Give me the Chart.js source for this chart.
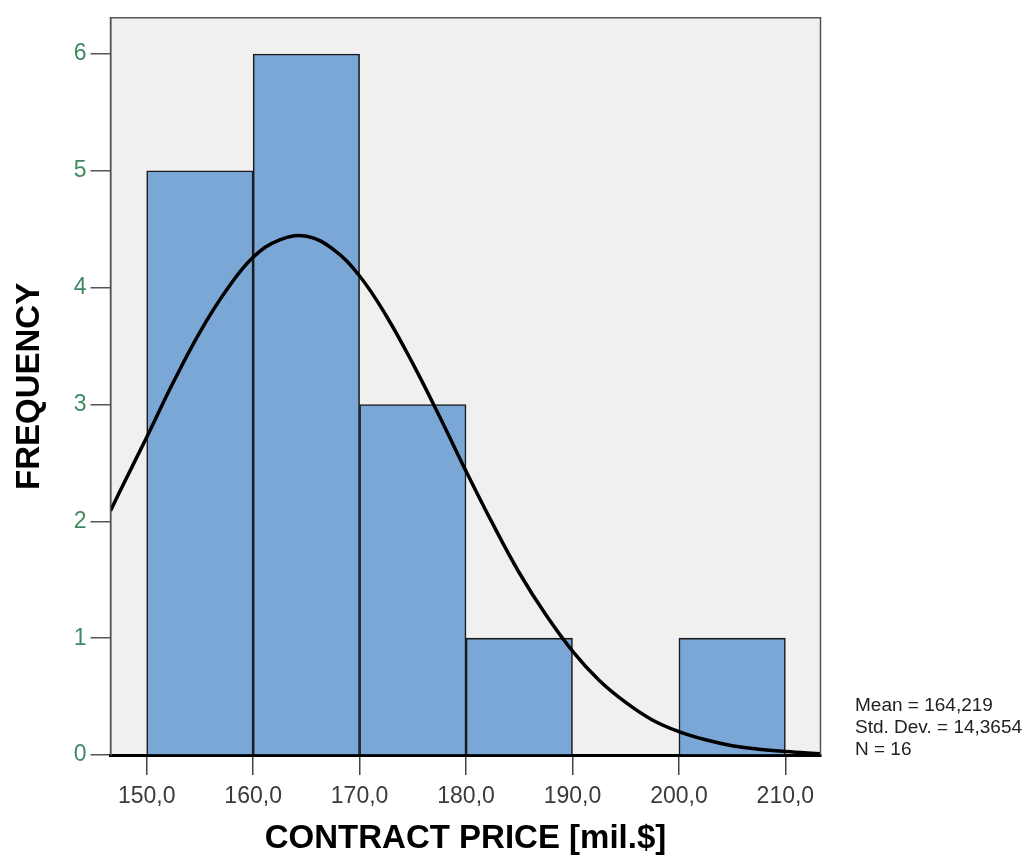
<!DOCTYPE html>
<html>
<head>
<meta charset="utf-8">
<script src="https://cdn.jsdelivr.net/npm/chart.js@4.4.1/dist/chart.umd.min.js"></script>
<style>
  html, body { margin: 0; padding: 0; background: #fff; }
  #wrap { width: 1027px; height: 861px; }
</style>
</head>
<body>
<div id="wrap"><canvas id="chart" width="1027" height="861"></canvas></div>
<script>
// histogram bins (lower and upper edges) and counts
var binStarts = [150, 160, 170, 180, 190, 200];
var binEnds = [160, 170, 180, 190, 200, 210];
var counts = [5, 6, 3, 1, 0, 1];

// normal curve
var curveX = [146.6, 147.5, 150, 152.5, 155, 157.5, 160, 162.5, 165, 167.5, 170, 172.5, 175, 177.5,
  180, 182.5, 185, 187.5, 190, 192.5, 195, 197.5, 200, 202.5, 205, 207.5, 210, 213.3];
var curveY = [2.09, 2.26, 2.72, 3.19, 3.62, 3.98, 4.26, 4.41, 4.44, 4.33, 4.10, 3.76, 3.35, 2.90,
  2.43, 1.98, 1.56, 1.20, 0.89, 0.64, 0.45, 0.30, 0.20, 0.13, 0.08, 0.05, 0.03, 0.01];

var xTicks = [150, 160, 170, 180, 190, 200, 210];
var yTicks = [0, 1, 2, 3, 4, 5, 6];
var statsLines = ['Mean = 164,219', 'Std. Dev. = 14,3654', 'N = 16'];

var xTitle = 'CONTRACT PRICE [mil.$]';
var yTitle = 'FREQUENCY';

var FONT = '"Liberation Sans", Arial, Helvetica, sans-serif';

var barData = [];
for (var i = 0; i < binStarts.length; i++) {
  barData.push({ x: (binStarts[i] + binEnds[i]) / 2, y: counts[i] > 0 ? counts[i] : null });
}
var curveData = [];
for (var j = 0; j < curveX.length; j++) {
  curveData.push({ x: curveX[j], y: curveY[j] });
}

// grey plot background and frame
var plotFrame = {
  id: 'plotFrame',
  beforeDraw: function(chart) {
    var a = chart.chartArea, ctx = chart.ctx;
    ctx.save();
    ctx.fillStyle = '#f0f0f0';
    ctx.fillRect(a.left, a.top, a.right - a.left, a.bottom - a.top);
    ctx.restore();
  },
  afterDatasetsDraw: function(chart) {
    var a = chart.chartArea, ctx = chart.ctx;
    ctx.save();
    ctx.strokeStyle = '#555';
    ctx.lineWidth = 1.5;
    ctx.beginPath();
    ctx.moveTo(a.left, a.bottom);
    ctx.lineTo(a.left, a.top);
    ctx.lineTo(a.right, a.top);
    ctx.lineTo(a.right, a.bottom);
    ctx.stroke();
    ctx.restore();
  },
  afterDraw: function(chart) {
    var ctx = chart.ctx;
    ctx.save();
    ctx.fillStyle = '#222';
    ctx.font = '19px ' + FONT;
    ctx.textBaseline = 'middle';
    ctx.textAlign = 'left';
    for (var k = 0; k < statsLines.length; k++) {
      ctx.fillText(statsLines[k], 855, 706 + k * 22);
    }
    ctx.restore();
  }
};

new Chart(document.getElementById('chart'), {
  type: 'bar',
  data: {
    datasets: [{
      type: 'line',
      data: curveData,
      borderColor: '#000',
      borderWidth: 3.5,
      pointRadius: 0,
      fill: false,
      tension: 0.4,
      order: 0
    }, {
      type: 'bar',
      data: barData,
      backgroundColor: '#7aa7d5',
      borderColor: '#1a1a1a',
      borderWidth: 1.6,
      barPercentage: 1,
      categoryPercentage: 1,
      grouped: false,
      order: 1
    }]
  },
  options: {
    responsive: false,
    animation: false,
    devicePixelRatio: 1,
    layout: { padding: { top: 16, right: 206.5, left: 0, bottom: 0 } },
    plugins: { legend: { display: false }, tooltip: { enabled: false } },
    scales: {
      x: {
        type: 'linear',
        offset: false,
        min: 146.6,
        max: 213.3,
        afterBuildTicks: function(scale) {
          scale.ticks = xTicks.map(function(v) { return { value: v }; });
        },
        afterFit: function(scale) { scale.height = 106; },
        ticks: {
          color: '#3a3a3a',
          font: { family: FONT, size: 23 },
          padding: 8,
          maxRotation: 0,
          callback: function(v) { return v.toFixed(1).replace('.', ','); }
        },
        grid: { offset: false, drawOnChartArea: false, drawTicks: true, tickLength: 20, color: '#444', lineWidth: 1.5 },
        border: { display: true, color: '#000', width: 3 },
        title: {
          display: true,
          text: xTitle,
          color: '#000',
          font: { family: FONT, size: 33, weight: 'bold' },
          padding: { top: 0, bottom: 2 }
        }
      },
      y: {
        min: 0,
        max: 6.31,
        afterBuildTicks: function(scale) {
          scale.ticks = yTicks.map(function(v) { return { value: v }; });
        },
        afterFit: function(scale) { scale.width = 110.5; },
        ticks: {
          color: '#3f8a62',
          font: { family: FONT, size: 23 },
          padding: 4
        },
        grid: { drawOnChartArea: false, drawTicks: true, tickLength: 20, color: '#555', lineWidth: 1.5 },
        border: { display: true, color: '#555', width: 1.5 },
        title: {
          display: true,
          text: yTitle,
          color: '#000',
          font: { family: FONT, size: 33, weight: 'bold' },
          padding: { top: 10, bottom: 0 }
        }
      }
    }
  },
  plugins: [plotFrame]
});
</script>
</body>
</html>
